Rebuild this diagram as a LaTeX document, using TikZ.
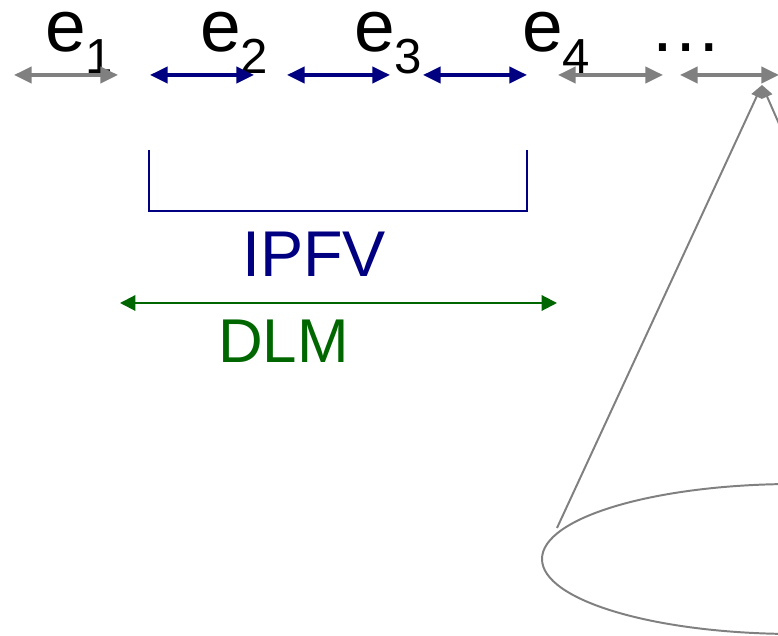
\documentclass[tikz,border=0pt]{standalone}
\usepackage{fontspec}
\setmainfont{Liberation Sans}
\usetikzlibrary{arrows.meta}

\definecolor{edgegray}{RGB}{128,128,128}
\definecolor{ipfvblue}{RGB}{0,0,128}
\definecolor{dlmgreen}{RGB}{0,102,0}

\newcommand{\elabel}[1]{\fontsize{52}{52}\selectfont e\raisebox{-15pt}{\fontsize{35}{35}\selectfont #1}}

\tikzset{
    span/.style={line width=2.4pt,{Triangle[length=12.5pt,width=11.5pt]}-{Triangle[length=12.5pt,width=11.5pt]}},
    grayspan/.style={span,edgegray},
    bluespan/.style={span,ipfvblue},
    label/.style={anchor=base west,inner sep=0pt},
    evlabel/.style={label,text height=28pt}
}

\begin{document}
\begin{tikzpicture}[x=0.025cm,y=0.025cm]
                \useasboundingbox (0,0) rectangle (778,636);
                \clip (0,0) rectangle (778,636);

                % event labels
                \node[evlabel] (e1) at (45,584) {\elabel{1}};
                \node[evlabel] (e2) at (200,584) {\elabel{2}};
                \node[evlabel] (e3) at (354,584) {\elabel{3}};
                \node[evlabel] (e4) at (522,584) {\elabel{4}};
                \node[evlabel] (dots) at (649,584) {\fontsize{52}{52}\selectfont …};

                \coordinate (a1) at (14,561);  \coordinate (b1) at (118,561);
                \coordinate (a2) at (150,561); \coordinate (b2) at (254,561);
                \coordinate (a3) at (287,561); \coordinate (b3) at (390,561);
                \coordinate (a4) at (423,561); \coordinate (b4) at (527,561);
                \coordinate (a5) at (558,561); \coordinate (b5) at (663,561);
                \coordinate (a6) at (680,561); \coordinate (b6) at (779,561);

                \draw[grayspan] (a1) -- (b1);
                \draw[bluespan] (a2) -- (b2);
                \draw[bluespan] (a3) -- (b3);
                \draw[bluespan] (a4) -- (b4);
                \draw[grayspan] (a5) -- (b5);
                \draw[grayspan] (a6) -- (b6);

                % IPFV window
                \coordinate (w1) at (149,486);
                \coordinate (w2) at (527,486);
                \draw[ipfvblue,line width=1.4pt] (w1) |- (527,425) -- (w2);
                \node[label,text=ipfvblue] (ipfv) at (242,359) {\fontsize{46}{46}\selectfont IPFV};

                % DLM window
                \coordinate (d1) at (120,333);
                \coordinate (d2) at (557,333);
                \draw[dlmgreen,line width=1.5pt,{Triangle[length=11pt,width=11pt]}-{Triangle[length=11pt,width=11pt]}] (d1) -- (d2);
                \node[label,text=dlmgreen] (dlm) at (218,273) {\fontsize{44}{44}\selectfont DLM};

                % cone
                \coordinate (apex) at (762,551);
                \coordinate (c1) at (557,108);
                \coordinate (c2) at (938,150);
                \draw[edgegray,line width=1.4pt,-{Triangle[length=9pt,width=8pt]}] (c1) -- (apex);
                \draw[edgegray,line width=1.4pt,-{Triangle[length=9pt,width=8pt]}] (c2) -- (apex);
                \draw[edgegray,line width=1.4pt] (795,77) ellipse [x radius=253, y radius=75];

            \end{tikzpicture}
\end{document}
